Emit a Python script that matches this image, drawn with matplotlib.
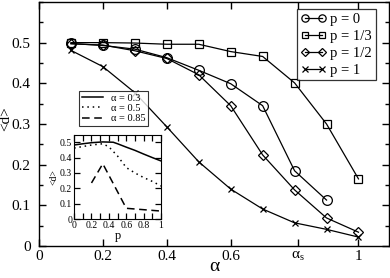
import numpy as np
import matplotlib
matplotlib.use('Agg')
import matplotlib.pyplot as plt
from matplotlib.ticker import MultipleLocator

plt.rcParams['font.family'] = ['Liberation Serif', 'DejaVu Serif']
plt.rcParams['mathtext.fontset'] = 'custom'
plt.rcParams['mathtext.rm'] = 'Liberation Serif'
plt.rcParams['mathtext.it'] = 'Liberation Serif:italic'

# main data: <d> versus alpha
alpha = [0.1, 0.2, 0.3, 0.4, 0.5, 0.6, 0.7, 0.8, 0.9, 1.0]
d_p0 = [0.498, 0.493, 0.484, 0.463, 0.432, 0.399, 0.345, 0.185, 0.113]
d_p13 = [0.500, 0.500, 0.499, 0.496, 0.496, 0.478, 0.466, 0.401, 0.300, 0.165]
d_p12 = [0.497, 0.494, 0.480, 0.461, 0.421, 0.345, 0.224, 0.138, 0.069, 0.034]
d_p1 = [0.481, 0.441, 0.377, 0.293, 0.207, 0.140, 0.091, 0.057, 0.041, 0.022]
alpha_s = 0.81

# inset data: <d> versus p
p_a03 = [0.0, 0.1, 0.2, 0.33, 0.45, 0.5, 0.6, 0.7, 0.8, 0.9, 1.0]
d_a03 = [0.482, 0.490, 0.497, 0.502, 0.500, 0.490, 0.468, 0.447, 0.423, 0.400, 0.378]
p_a05 = [0.0, 0.1, 0.2, 0.33, 0.4, 0.5, 0.6, 0.7, 0.8, 0.9, 1.0]
d_a05 = [0.462, 0.472, 0.482, 0.490, 0.470, 0.410, 0.335, 0.300, 0.270, 0.245, 0.215]
p_a085 = [0.2, 0.33, 0.6, 1.0]
d_a085 = [0.235, 0.360, 0.070, 0.052]

fig = plt.figure(figsize=(3.9, 2.78), dpi=100)
ax = fig.add_axes([0.1, 0.115, 0.897, 0.878])

kw = dict(color='black', lw=0.9, mfc='none', mec='black', mew=0.9)
ax.plot(alpha[:len(d_p0)], d_p0, marker='o', ms=7, label='p = 0', **kw)
ax.plot(alpha, d_p13, marker='s', ms=6, label='p = 1/3', **kw)
ax.plot(alpha, d_p12, marker='D', ms=5, label='p = 1/2', **kw)
ax.plot(alpha, d_p1, marker='x', ms=5, label='p = 1', **kw)

ax.set_xlim(0, 1.095)
ax.set_ylim(0, 0.6)
ax.set_xticks([0, 0.2, 0.4, 0.6, alpha_s, 1.0])
ax.set_xticklabels(['0', '0.2', '0.4', '0.6', r'$\mathrm{α}_\mathrm{s}$', '1'])
ax.set_yticks([0, 0.1, 0.2, 0.3, 0.4, 0.5])
ax.set_yticklabels(['0', '0.1', '0.2', '0.3', '0.4', '0.5'])
ax.yaxis.set_minor_locator(MultipleLocator(0.05))
ax.tick_params(which='both', direction='in', top=True, right=True, labelsize=11)
ax.tick_params(which='major', length=5, width=1)
ax.tick_params(which='minor', length=3, width=1)
ax.tick_params(axis='x', pad=3)
ax.tick_params(axis='y', pad=6)
for s in ax.spines.values():
    s.set_linewidth(1)
ax.set_xlabel('α', fontsize=14)
ax.xaxis.set_label_coords(0.5, -0.048)
ax.set_ylabel('<d>', fontsize=11)
ax.yaxis.set_label_coords(-0.077, 0.52)

leg = ax.legend(loc='upper right', bbox_to_anchor=(0.962, 0.97), fontsize=10.5,
                numpoints=2, handlelength=1.75, handletextpad=0.25,
                labelspacing=0.25, borderpad=0.25, borderaxespad=0,
                markerscale=0.75,
                frameon=True, fancybox=False, edgecolor='black')
leg.get_frame().set_linewidth(0.9)

# inset
ins = fig.add_axes([0.19, 0.212, 0.223, 0.304])
ins.plot(p_a03, d_a03, color='black', lw=1.1, ls='-', label='α = 0.3')
ins.plot(p_a05, d_a05, color='black', lw=1.1, ls=(0, (1, 2.5)), label='α = 0.5')
ins.plot(p_a085, d_a085, color='black', lw=1.1, ls=(0, (5, 3)), label='α = 0.85')
ins.set_xlim(0, 1)
ins.set_ylim(0, 0.55)
ins.set_xticks([0, 0.2, 0.4, 0.6, 0.8, 1.0])
ins.set_xticklabels(['0', '0.2', '0.4', '0.6', '0.8', '1'])
ins.set_yticks([0, 0.1, 0.2, 0.3, 0.4, 0.5])
ins.set_yticklabels(['0', '0.1', '0.2', '0.3', '0.4', '0.5'])
ins.xaxis.set_minor_locator(MultipleLocator(0.1))
ins.tick_params(which='both', direction='in', top=True, right=True, labelsize=7, pad=1.5)
ins.tick_params(which='major', length=4, width=0.9)
ins.tick_params(which='minor', length=4, width=0.9)
ins.set_xlabel('p', fontsize=9, labelpad=0)
ins.set_ylabel('<d>', fontsize=7, labelpad=1)

fig.legend(handles=ins.get_lines(), loc='lower left',
           bbox_to_anchor=(0.19, 0.528), fontsize=7.5, handlelength=2.0,
           handletextpad=0.8, labelspacing=0.1, borderpad=0.25,
           frameon=True, fancybox=False, edgecolor='black').get_frame().set_linewidth(0.8)

plt.savefig('out.png', dpi=100)
